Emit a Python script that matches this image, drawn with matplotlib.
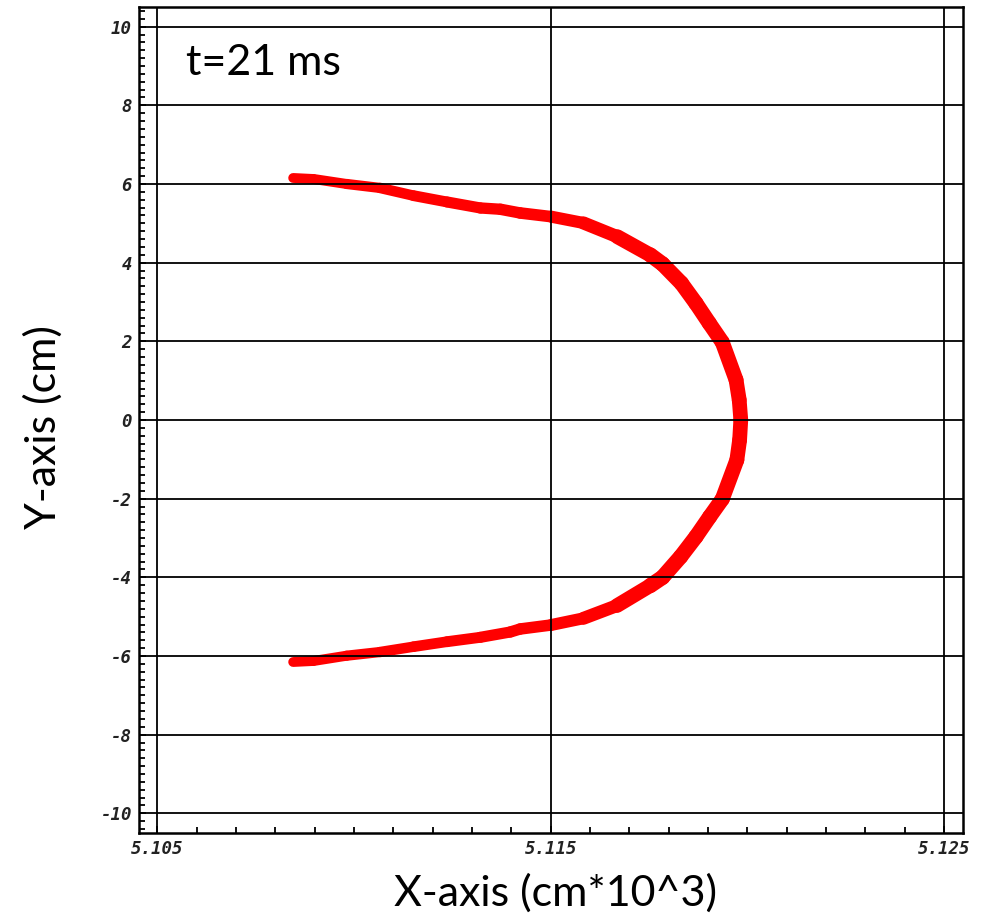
import matplotlib
matplotlib.use("Agg")
import matplotlib.pyplot as plt
import numpy as np
from matplotlib.collections import LineCollection
from matplotlib.ticker import MultipleLocator, FixedLocator

plt.rcParams['axes.unicode_minus'] = False

# centerline of the front (x in cm*10^3, y in cm)
front_x = [5.10845, 5.10896, 5.10981, 5.11066, 5.11151, 5.11236, 5.11321, 5.11372,
           5.11422, 5.11501, 5.11583, 5.11669, 5.11753, 5.11784, 5.11832, 5.11869,
           5.11903, 5.11936, 5.11971, 5.11979, 5.11983,
           5.11980, 5.11973, 5.11936, 5.11904, 5.11869, 5.11830, 5.11784, 5.11753,
           5.11668, 5.11583, 5.11501, 5.11422, 5.11397, 5.11321, 5.11236, 5.11151,
           5.11066, 5.10981, 5.10896, 5.10845]
front_y = [6.153, 6.128, 6.000, 5.899, 5.703, 5.543, 5.390, 5.357,
           5.263, 5.169, 5.009, 4.661, 4.195, 3.966, 3.476, 2.967,
           2.459, 1.976, 1.017, 0.509, 0.000,
           -0.509, -1.017, -2.009, -2.459, -2.967, -3.476, -4.000, -4.210,
           -4.720, -5.042, -5.212, -5.314, -5.390, -5.525, -5.637, -5.764,
           -5.899, -5.993, -6.128, -6.153]

x_ticks = [5.105, 5.115, 5.125]
x_tick_labels = ["5.105", "5.115", "5.125"]
y_ticks = [-10, -8, -6, -4, -2, 0, 2, 4, 6, 8, 10]

fig = plt.figure(figsize=(9.92, 9.19), dpi=100)
ax = fig.add_axes([0.1401, 0.0936, 0.8307, 0.8988])

pts = np.column_stack([front_x, front_y])
segs = np.stack([pts[:-1], pts[1:]], axis=1)
mid_abs_y = np.abs((pts[:-1, 1] + pts[1:, 1]) / 2)
widths = np.interp(mid_abs_y, [0, 4.3, 5.2, 6.2], [10.6, 11.0, 8.4, 7.0])
lc = LineCollection(segs, linewidths=widths, colors='#ff0000', capstyle='round',
                    joinstyle='round', zorder=1.5)
ax.add_collection(lc)

ax.set_xlim(5.10453, 5.12548)
ax.set_ylim(-10.50, 10.50)

ax.xaxis.set_major_locator(FixedLocator(x_ticks))
ax.set_xticklabels(x_tick_labels)
ax.xaxis.set_minor_locator(MultipleLocator(0.001))
ax.yaxis.set_major_locator(FixedLocator(y_ticks))
ax.set_yticklabels([str(v) for v in y_ticks])
ax.yaxis.set_minor_locator(MultipleLocator(0.2))

ax.set_axisbelow(False)
ax.grid(True, which='major', color='black', linewidth=1.3)

for lab in ax.get_xticklabels() + ax.get_yticklabels():
    lab.set_fontfamily('DejaVu Sans Mono')
    lab.set_fontstyle('oblique')
    lab.set_fontweight('bold')
    lab.set_fontsize(12.5)
    lab.set_color('#222222')

ax.tick_params(which='both', direction='in', color='black', width=1.3)
ax.tick_params(which='major', length=5)
ax.tick_params(which='minor', length=4)
ax.tick_params(axis='x', pad=5)
ax.tick_params(axis='y', pad=5)

for sp in ax.spines.values():
    sp.set_linewidth(1.8)
    sp.set_color('black')

lab_font = 'Lato'
W, H = 992.0, 919.0
fig.text(555 / W, 1 - 893 / H, "X-axis (cm*10^3)", fontfamily=lab_font, fontsize=31,
         ha='center', va='center')
fig.text(43 / W, 1 - 427 / H, "Y-axis (cm)", fontfamily=lab_font, fontsize=31,
         ha='center', va='center', rotation=90)
fig.text(186 / W, 1 - 75 / H, "t=21 ms", fontfamily=lab_font, fontsize=31,
         ha='left', va='baseline')

fig.savefig("out.png", dpi=100)
